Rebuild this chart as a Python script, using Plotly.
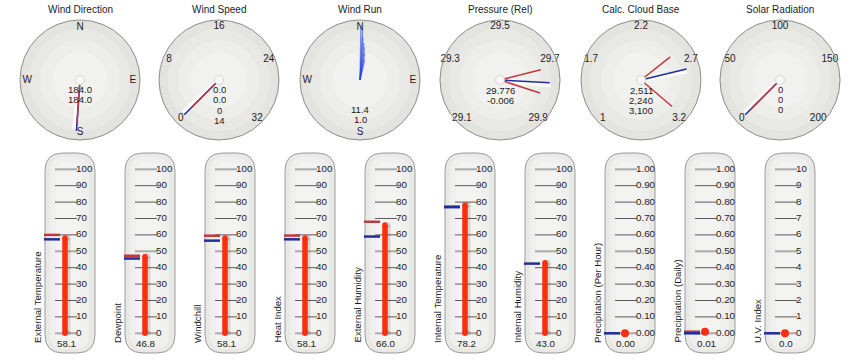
import plotly.graph_objects as go

W, H = 858, 364

# ---------------- data ----------------
dial_titles = ["Wind Direction", "Wind Speed", "Wind Run", "Pressure (Rel)", "Calc. Cloud Base", "Solar Radiation"]
compass_labels = ["N", "E", "S", "W"]
compass_angles = [0, 90, 180, 270]

wind_dir_current = 184.0
wind_dir_avg = 184.0
wind_dir_text = ["184.0", "184.0"]

wind_speed_scale = [0, 32]
wind_speed_labels = ["0", "8", "16", "24", "32"]
wind_speed_current = 0.0
wind_speed_avg = 0.0
wind_speed_text = ["0.0", "0.0", "0", "14"]

wind_run_dirs = [1, 3, 4, 6, 8, 10, 13]
wind_run_amounts = [0.92, 0.85, 0.72, 0.62, 0.55, 0.45, 0.35]
wind_run_text = ["11.4", "1.0"]

pressure_scale = [29.1, 29.9]
pressure_labels = ["29.1", "29.3", "29.5", "29.7", "29.9"]
pressure_current = 29.776
pressure_low = 29.725
pressure_high = 29.82
pressure_text = ["29.776", "-0.006"]

cloud_scale = [200, 3150]
cloud_labels = ["1", "1.7", "2.2", "2.7", "3.2"]
cloud_current = 2511
cloud_low = 2240
cloud_high = 3100
cloud_text = ["2,511", "2,240", "3,100"]

solar_scale = [0, 200]
solar_labels = ["0", "50", "100", "150", "200"]
solar_current = 0
solar_avg = 0
solar_text = ["0", "0", "0"]

therm_names = ["External Temperature", "Dewpoint", "Windchill", "Heat Index", "External Humidity",
               "Internal Temperature", "Internal Humidity", "Precipitation (Per Hour)",
               "Precipitation (Daily)", "U.V. Index"]
therm_values = [58.1, 46.8, 58.1, 58.1, 66.0, 78.2, 43.0, 0.00, 0.01, 0.0]
therm_highs = [60.0, 47.3, 59.5, 59.6, 68.0, 77.3, None, None, 0.01, None]
therm_lows = [57.3, 45.6, 56.5, 57.3, 59.0, 76.9, 42.5, 0.0, 0.0, 0.0]
therm_max = [100, 100, 100, 100, 100, 100, 100, 1.0, 1.0, 10]
therm_value_text = ["58.1", "46.8", "58.1", "58.1", "66.0", "78.2", "43.0", "0.00", "0.01", "0.0"]
therm_decimals = [0, 0, 0, 0, 0, 0, 0, 2, 2, 0]

# ---------------- layout constants ----------------
FONT = "Liberation Sans, Arial, sans-serif"
TXT = "#1c1c1c"
RED = "#c2373d"
BLUE = "#1f2d9c"
BAR = "#fb2e0f"
DIAL_CX = [80, 219, 360, 500, 641, 780]
DIAL_CY = 80
DIAL_R = 60
PILL_L = [45, 125, 205, 285, 365, 445, 525, 605, 685, 765]
PILL_W = 50
PILL_T, PILL_B = 153, 353
ZERO_PX, FULL_PX = 333.3, 169.3


def px(x):
    return x / W


def py(y):
    return 1 - y / H


def rr_path(x0, y0, x1, y1, r):
    def P(x, y):
        return f"{px(x):.5f},{py(y):.5f}"
    return (f"M {P(x0 + r, y0)} L {P(x1 - r, y0)} Q {P(x1, y0)} {P(x1, y0 + r)} "
            f"L {P(x1, y1 - r)} Q {P(x1, y1)} {P(x1 - r, y1)} L {P(x0 + r, y1)} "
            f"Q {P(x0, y1)} {P(x0, y1 - r)} L {P(x0, y0 + r)} Q {P(x0, y0)} {P(x0 + r, y0)} Z")


fig = go.Figure()
shapes = []
annotations = []
layout_axes = {}

# ---------------- thermometers ----------------
for i, name in enumerate(therm_names):
    k = i + 1
    xa = "x" if k == 1 else f"x{k}"
    ya = "y" if k == 1 else f"y{k}"
    L = PILL_L[i]
    m = therm_max[i]
    ppu = (ZERO_PX - FULL_PX) / m
    yr = [-(PILL_B - ZERO_PX) / ppu, (ZERO_PX - PILL_T) / ppu]
    layout_axes["xaxis" if k == 1 else f"xaxis{k}"] = dict(
        domain=[px(L - 10), px(L + 60)], range=[-10, 60], visible=False, fixedrange=True, anchor=ya)
    layout_axes["yaxis" if k == 1 else f"yaxis{k}"] = dict(
        domain=[py(PILL_B), py(PILL_T)], range=yr, visible=False, fixedrange=True, anchor=xa)

    # pill background
    shapes.append(dict(type="path", xref="paper", yref="paper", layer="below",
                       path=rr_path(L, PILL_T, L + PILL_W, PILL_B, 18),
                       fillcolor="#e8e8e5", line=dict(color="#9a9a9a", width=1)))
    shapes.append(dict(type="path", xref="paper", yref="paper", layer="below",
                       path=rr_path(L + 5, PILL_T + 4, L + PILL_W - 6, PILL_B - 4, 14),
                       fillcolor="#efefed", line=dict(width=0)))
    shapes.append(dict(type="path", xref="paper", yref="paper", layer="below",
                       path=rr_path(L + 11, PILL_T + 9, L + PILL_W - 14, PILL_B - 9, 9),
                       fillcolor="#f3f3f1", line=dict(width=0)))

    # tick lines
    ticks = [m * j / 10 for j in range(11)]
    lx, ly, dx, dy = [], [], [], []
    for j, v in enumerate(ticks):
        if j in (0, 5, 10):
            lx += [10, 32, None]; ly += [v, v, None]
        else:
            dx += [10, 32, None]; dy += [v, v, None]
    fig.add_trace(go.Scatter(x=dx, y=dy, mode="lines", line=dict(color="#5a5a5a", width=1),
                             xaxis=xa, yaxis=ya, hoverinfo="skip", showlegend=False))
    fig.add_trace(go.Scatter(x=lx, y=ly, mode="lines", line=dict(color="#ababab", width=2),
                             xaxis=xa, yaxis=ya, hoverinfo="skip", showlegend=False))
    fmt = "{:.%df}" % therm_decimals[i]
    fig.add_trace(go.Scatter(x=[31] * len(ticks), y=ticks, mode="text",
                             text=[fmt.format(v) for v in ticks], textposition="middle right",
                             textfont=dict(size=9.8, color=TXT, family=FONT),
                             xaxis=xa, yaxis=ya, hoverinfo="skip", showlegend=False, cliponaxis=False))

    # hi / lo markers
    if therm_highs[i] is not None:
        fig.add_trace(go.Scatter(x=[-1, 15], y=[therm_highs[i]] * 2, mode="lines",
                                 line=dict(color=RED, width=2.5), xaxis=xa, yaxis=ya,
                                 hoverinfo="skip", showlegend=False))
    if therm_lows[i] is not None:
        fig.add_trace(go.Scatter(x=[-1, 15], y=[therm_lows[i]] * 2, mode="lines",
                                 line=dict(color=BLUE, width=2.5), xaxis=xa, yaxis=ya,
                                 hoverinfo="skip", showlegend=False))

    # value bar
    v = therm_values[i]
    if v > 0.02 * m:
        fig.add_trace(go.Scatter(x=[22.5, 22.5], y=[0, v], mode="lines+markers",
                                 line=dict(color="rgba(0,0,0,0.12)", width=6),
                                 marker=dict(size=6, color="rgba(0,0,0,0.12)"),
                                 xaxis=xa, yaxis=ya, hoverinfo="skip", showlegend=False, cliponaxis=False))
        fig.add_trace(go.Scatter(x=[20, 20], y=[0, v], mode="lines+markers",
                                 line=dict(color=BAR, width=5.5),
                                 marker=dict(size=5.5, color=BAR),
                                 xaxis=xa, yaxis=ya, hoverinfo="skip", showlegend=False, cliponaxis=False))
    else:
        fig.add_trace(go.Scatter(x=[20], y=[v], mode="markers",
                                 marker=dict(size=8, color=BAR),
                                 xaxis=xa, yaxis=ya, hoverinfo="skip", showlegend=False, cliponaxis=False))

    annotations.append(dict(x=px(L + 21), y=py(343), xref="paper", yref="paper", text=therm_value_text[i],
                            showarrow=False, xanchor="center", yanchor="middle",
                            font=dict(size=9.8, color=TXT, family=FONT)))
    annotations.append(dict(x=px(L - 8), y=py(345), xref="paper", yref="paper", text=name,
                            showarrow=False, textangle=-90, xanchor="center", yanchor="bottom",
                            font=dict(size=9.6, color=TXT, family=FONT)))


# ---------------- dials ----------------
def gauge_theta(v, scale):
    lo, hi = scale
    return -135 + 270 * (v - lo) / (hi - lo)


gauge_label_thetas = [-135, -67.5, 0, 67.5, 135]


def polar_key(p):
    return "polar" if p == 0 else f"polar{p + 1}"


def needle(p, theta, length, color, width=1.5):
    fig.add_trace(go.Scatterpolar(r=[0, length], theta=[theta, theta], mode="lines",
                                  line=dict(color=color, width=width), subplot=polar_key(p),
                                  hoverinfo="skip", showlegend=False))


def shadow(p, theta, length):
    fig.add_trace(go.Scatterpolar(r=[0.05, length], theta=[theta + 4, theta + 3], mode="lines",
                                  line=dict(color="rgba(255,255,255,0.85)", width=4), subplot=polar_key(p),
                                  hoverinfo="skip", showlegend=False))


def labels(p, texts, thetas, r=0.88):
    fig.add_trace(go.Scatterpolar(r=[r] * len(texts), theta=thetas, mode="text", text=texts,
                                  textfont=dict(size=10, color=TXT, family=FONT), subplot=polar_key(p),
                                  hoverinfo="skip", showlegend=False))


def pivot(p):
    fig.add_trace(go.Scatterpolar(r=[0], theta=[0], mode="markers",
                                  marker=dict(size=9, color="#f7f7f5", line=dict(color="#d6d6d2", width=1)),
                                  subplot=polar_key(p), hoverinfo="skip", showlegend=False))


for p in range(6):
    cx = DIAL_CX[p]
    # dial face (soft radial shading)
    for rad, col in [(DIAL_R, "#e3e3df"), (DIAL_R - 9, "#e8e8e5"), (DIAL_R - 20, "#ededea"), (DIAL_R - 32, "#f1f1ef")]:
        shapes.append(dict(type="circle", xref="paper", yref="paper", layer="below",
                           x0=px(cx - rad), x1=px(cx + rad), y0=py(DIAL_CY + rad), y1=py(DIAL_CY - rad),
                           fillcolor=col, line=dict(width=0)))
    layout_axes[polar_key(p)] = dict(
        domain=dict(x=[px(cx - DIAL_R), px(cx + DIAL_R)], y=[py(DIAL_CY + DIAL_R), py(DIAL_CY - DIAL_R)]),
        bgcolor="rgba(0,0,0,0)",
        angularaxis=dict(rotation=90, direction="clockwise", showticklabels=False, ticks="",
                         showgrid=False, showline=True, linecolor="#8c8c8c", linewidth=1),
        radialaxis=dict(visible=False, range=[0, 1], showgrid=False, showline=False),
    )
    annotations.append(dict(x=px(cx), y=py(9), xref="paper", yref="paper", text=dial_titles[p],
                            showarrow=False, xanchor="center", yanchor="middle",
                            font=dict(size=10, color=TXT, family=FONT)))

# Wind direction
labels(0, compass_labels, compass_angles)
shadow(0, wind_dir_avg, 0.82)
needle(0, wind_dir_avg, 0.85, BLUE)
needle(0, wind_dir_current, 0.72, RED)
pivot(0)

# Wind speed
labels(1, wind_speed_labels, gauge_label_thetas, 0.9)
shadow(1, gauge_theta(wind_speed_avg, wind_speed_scale), 0.8)
needle(1, gauge_theta(wind_speed_avg, wind_speed_scale), 0.82, BLUE)
needle(1, gauge_theta(wind_speed_current, wind_speed_scale), 0.65, RED)
pivot(1)

# Wind run
labels(2, compass_labels, compass_angles)
for d, a in zip(wind_run_dirs, wind_run_amounts):
    needle(2, d, a, "rgba(40,70,225,0.6)", 1.3)

# Pressure
labels(3, pressure_labels, gauge_label_thetas, 0.9)
shadow(3, gauge_theta(pressure_current, pressure_scale), 0.85)
needle(3, gauge_theta(pressure_high, pressure_scale), 0.7, RED)
needle(3, gauge_theta(pressure_low, pressure_scale), 0.7, RED)
needle(3, gauge_theta(pressure_current, pressure_scale), 0.83, BLUE)
pivot(3)

# Cloud base
labels(4, cloud_labels, gauge_label_thetas, 0.9)
shadow(4, gauge_theta(cloud_current, cloud_scale), 0.78)
needle(4, gauge_theta(cloud_low, cloud_scale), 0.62, RED)
needle(4, gauge_theta(cloud_high, cloud_scale), 0.68, RED)
needle(4, gauge_theta(cloud_current, cloud_scale), 0.78, BLUE)
pivot(4)

# Solar
labels(5, solar_labels, gauge_label_thetas, 0.9)
shadow(5, gauge_theta(solar_avg, solar_scale), 0.8)
needle(5, gauge_theta(solar_avg, solar_scale), 0.82, BLUE)
needle(5, gauge_theta(solar_current, solar_scale), 0.68, RED)
pivot(5)

center_texts = [wind_dir_text, wind_speed_text, wind_run_text, pressure_text, cloud_text, solar_text]
center_start = [89, 89, 108.5, 89.5, 89.5, 88.5]
for p, lines in enumerate(center_texts):
    for j, t in enumerate(lines):
        annotations.append(dict(x=px(DIAL_CX[p]), y=py(center_start[p] + 10.3 * j), xref="paper", yref="paper",
                                text=t, showarrow=False, xanchor="center", yanchor="middle", height=10,
                                font=dict(size=9.6, color=TXT, family=FONT)))

fig.update_layout(
    width=W, height=H, autosize=False,
    margin=dict(l=0, r=0, t=0, b=0, pad=0),
    paper_bgcolor="white", plot_bgcolor="rgba(0,0,0,0)",
    showlegend=False,
    shapes=shapes, annotations=annotations,
    font=dict(family=FONT, size=10, color=TXT),
    **layout_axes,
)

fig.write_html("out.html", config=dict(displayModeBar=False, staticPlot=True),
               post_script="document.body.style.margin='0';document.body.style.padding='0';")
